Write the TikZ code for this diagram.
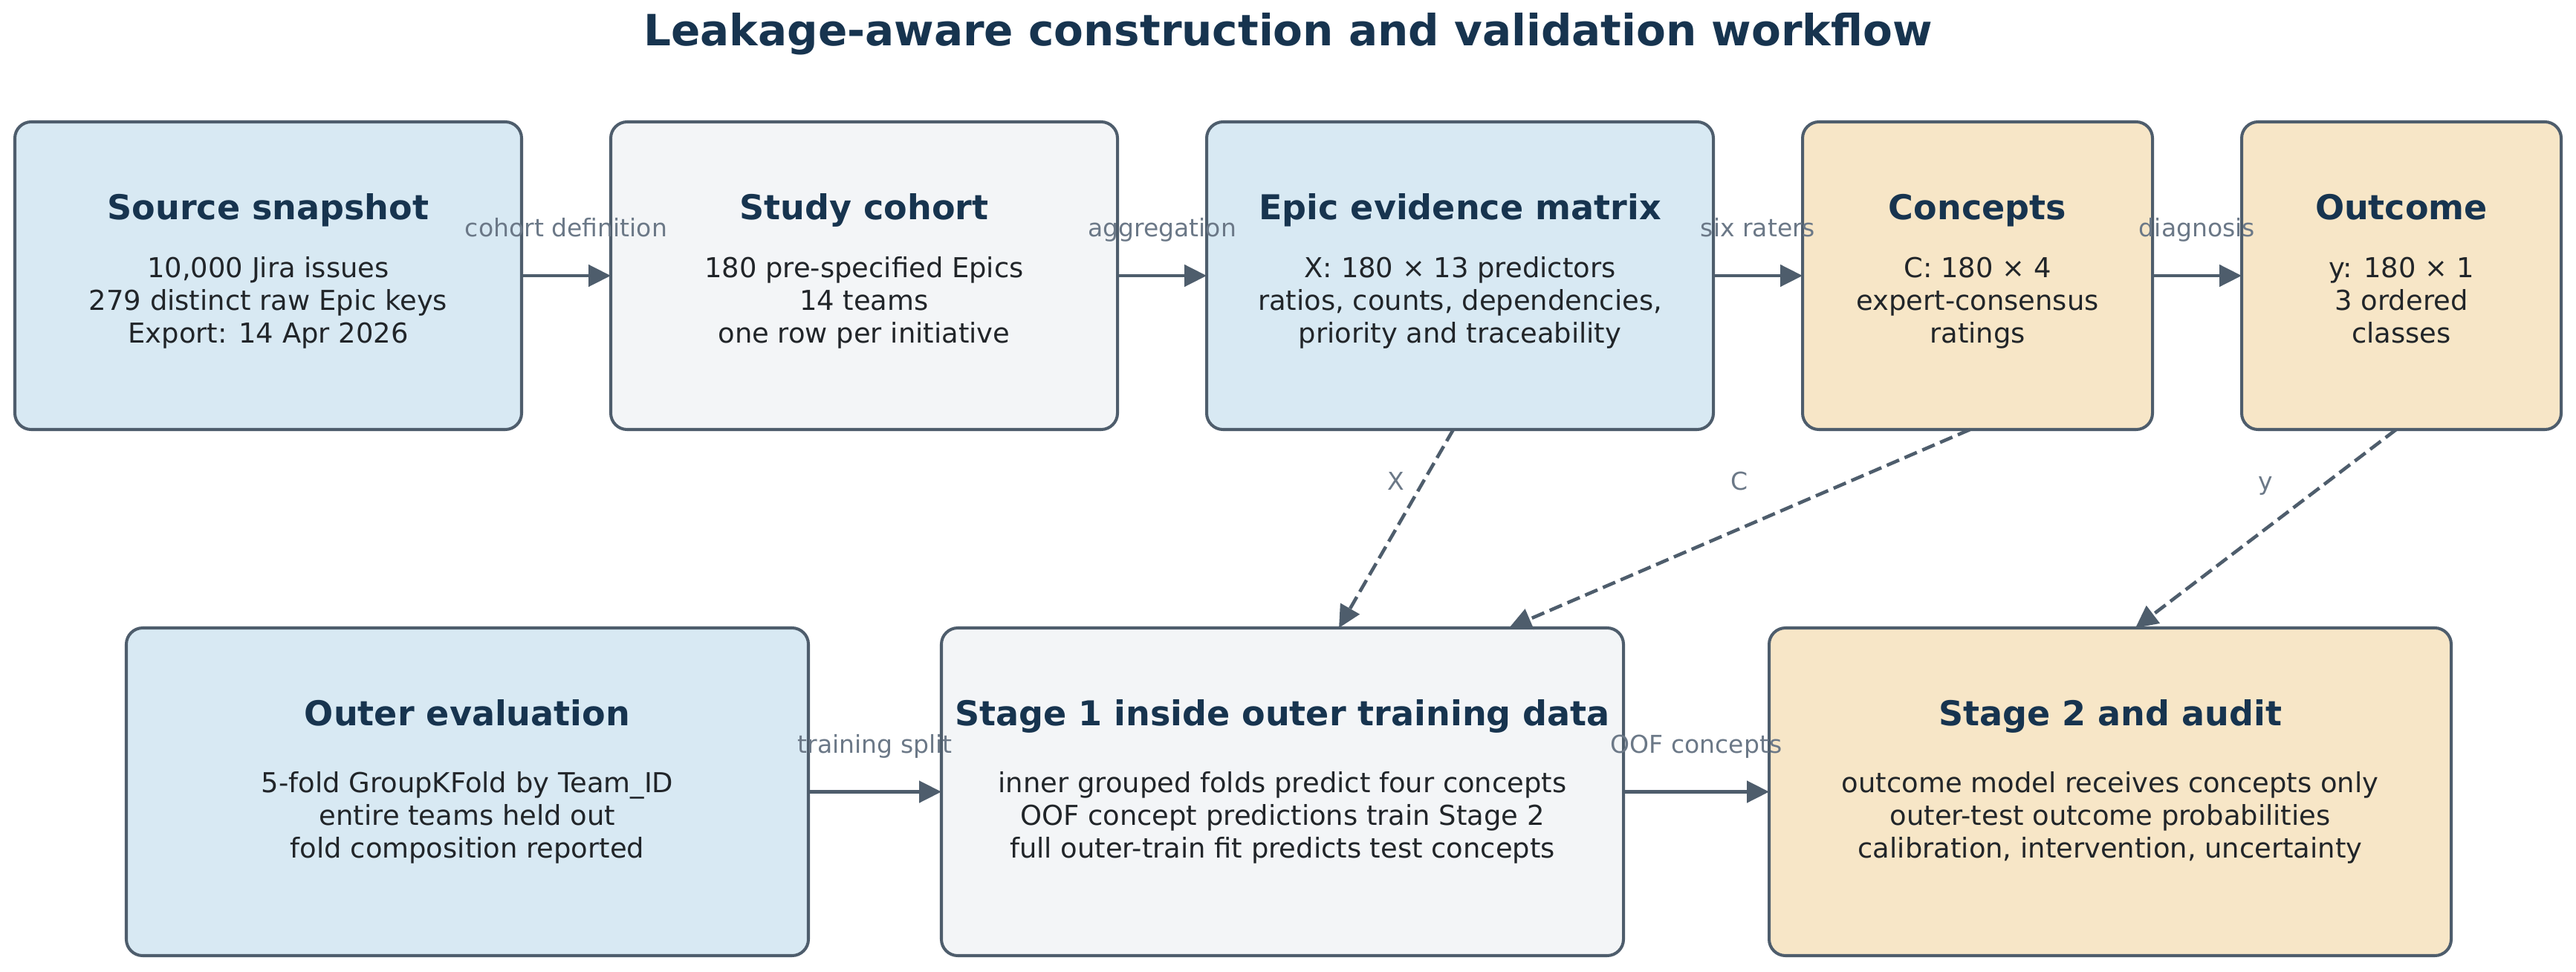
\documentclass[tikz,border=0pt]{standalone}
\usepackage{fontspec}
\setmainfont{DejaVu Sans}
\usetikzlibrary{positioning,arrows.meta}

\definecolor{boxblue}{HTML}{D8E9F3}
\definecolor{boxgray}{HTML}{F3F5F7}
\definecolor{boxsand}{HTML}{F7E6C7}
\definecolor{edgegray}{HTML}{4E5D6C}
\definecolor{lblgray}{HTML}{6B7887}
\definecolor{titlenavy}{HTML}{17344F}
\definecolor{bodyink}{HTML}{212529}

\begin{document}
\begin{tikzpicture}[>={Triangle[length=3mm,width=2.9mm]},line width=1.15pt,
node distance=1.2cm,
box/.style={draw=edgegray,rounded corners=2.2mm,outer sep=0pt,inner sep=0pt,minimum height=4.14cm},
low box/.style={box,minimum height=4.41cm,minimum width=9.18cm},
blue box/.style={box,fill=boxblue},
gray box/.style={box,fill=boxgray},
sand box/.style={box,fill=boxsand},
box title/.style={anchor=base,text=titlenavy,font=\fontsize{13.1}{15}\selectfont\bfseries},
box body/.style={align=center,text=bodyink,text depth=0.25em,font=\fontsize{10.5}{12.5}\selectfont},
lbl/.style={anchor=base,yshift=0.52cm,text=lblgray,inner sep=0pt,font=\fontsize{9.4}{11}\selectfont},
flow/.style={->,draw=edgegray,line width=1.3pt},
feed/.style={->,draw=edgegray,line width=1.3pt,dash pattern=on 1.8mm off 0.8mm}]

\path[use as bounding box,fill=white] (0,0) rectangle (34.67,-13.08);

\node[anchor=base,text=titlenavy,font=\fontsize{16.5}{20}\selectfont\bfseries] (head) at (17.335,-0.62)
{Leakage-aware construction and validation workflow};

% top row
\node[blue box,minimum width=6.82cm] (src) at (3.61,-3.71) {};
\node[gray box,minimum width=6.82cm] (cohort) [right=of src] {};
\node[blue box,minimum width=6.82cm] (epic) [right=of cohort] {};
\node[sand box,minimum width=4.71cm] (conc) [right=of epic] {};
\node[sand box,minimum width=4.30cm] (out) [right=of conc] {};

\node[box title] (srcT) at ([yshift=-1.32cm]src.north) {Source snapshot};
\node[box body] (srcB) at ([yshift=-0.37cm]src.center) {10,000 Jira issues\\279 distinct raw Epic keys\\Export: 14 Apr 2026};
\node[box title] (cohortT) at ([yshift=-1.32cm]cohort.north) {Study cohort};
\node[box body] (cohortB) at ([yshift=-0.37cm]cohort.center) {180 pre-specified Epics\\14 teams\\one row per initiative};
\node[box title] (epicT) at ([yshift=-1.32cm]epic.north) {Epic evidence matrix};
\node[box body] (epicB) at ([yshift=-0.37cm]epic.center) {X: 180 × 13 predictors\\ratios, counts, dependencies,\\priority and traceability};
\node[box title] (concT) at ([yshift=-1.32cm]conc.north) {Concepts};
\node[box body] (concB) at ([yshift=-0.37cm]conc.center) {C: 180 × 4\\expert-consensus\\ratings};
\node[box title] (outT) at ([yshift=-1.32cm]out.north) {Outcome};
\node[box body] (outB) at ([yshift=-0.37cm]out.center) {y: 180 × 1\\3 ordered\\classes};

% bottom row
\node[low box,fill=boxblue] (outer) at (6.29,-10.655) {};
\node[low box,fill=boxgray] (stgone) [right=1.79cm of outer] {};
\node[low box,fill=boxsand] (stgtwo) [right=1.96cm of stgone] {};

\node[box title] (outerT) at ([yshift=-1.31cm]outer.north) {Outer evaluation};
\node[box body] (outerB) at ([yshift=-0.35cm]outer.center) {5-fold GroupKFold by Team\_ID\\entire teams held out\\fold composition reported};
\node[box title] (stgoneT) at ([yshift=-1.31cm]stgone.north) {Stage 1 inside outer training data};
\node[box body] (stgoneB) at ([yshift=-0.35cm]stgone.center) {inner grouped folds predict four concepts\\OOF concept predictions train Stage 2\\full outer-train fit predicts test concepts};
\node[box title] (stgtwoT) at ([yshift=-1.31cm]stgtwo.north) {Stage 2 and audit};
\node[box body] (stgtwoB) at ([yshift=-0.35cm]stgtwo.center) {outcome model receives concepts only\\outer-test outcome probabilities\\calibration, intervention, uncertainty};

\path
(src) edge[flow] node[lbl] (l1) {cohort definition} (cohort)
(cohort) edge[flow] node[lbl] (l2) {aggregation} (epic)
(epic) edge[flow] node[lbl] (l3) {six raters} (conc)
(conc) edge[flow] node[lbl] (l4) {diagnosis} (out)
(outer) edge[flow] node[lbl] (l5) {training split} (stgone)
(stgone) edge[flow] node[lbl] (l6) {OOF concepts} (stgtwo);

\path
([xshift=-0.09cm]epic.south) edge[feed] node[lbl] (lx) {X} ([xshift=0.76cm]stgone.north)
([xshift=-0.1cm]conc.south) edge[feed] node[lbl] (lc) {C} ([xshift=3.05cm]stgone.north)
([xshift=-0.07cm]out.south) edge[feed] node[lbl] (ly) {y} ([xshift=0.34cm]stgtwo.north);

\end{tikzpicture}
\end{document}
